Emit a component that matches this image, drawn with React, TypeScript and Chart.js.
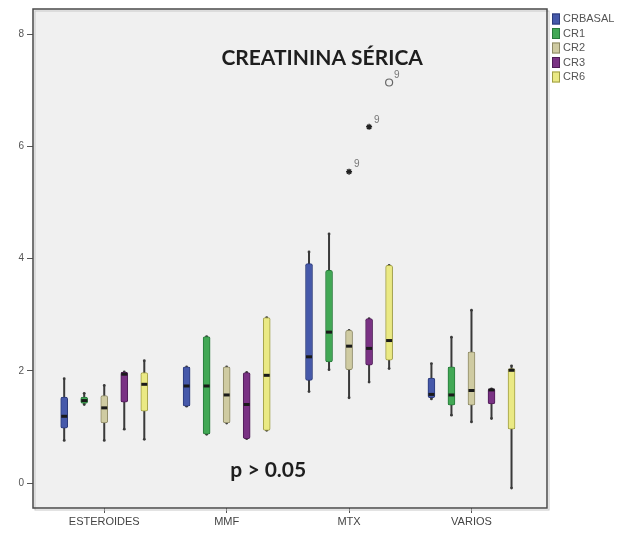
import React, { useEffect, useRef } from 'react';
import { Chart, registerables } from 'chart.js';
Chart.register(...registerables);

const categories = ['ESTEROIDES', 'MMF', 'MTX', 'VARIOS'];
const seriesNames = ['CRBASAL', 'CR1', 'CR2', 'CR3', 'CR6'];
const seriesColors = ['#4659AA', '#42A855', '#CFCBA2', '#7A3284', '#EAE984'];
const seriesBorders = ['#2c3b7a', '#287a3b', '#8d8966', '#4f1d57', '#9e9c44'];

// series x category
const minValues = [
  [0.76, 1.37, 1.63, 1.50],
  [1.40, 0.87, 2.02, 1.21],
  [0.76, 1.07, 1.52, 1.09],
  [0.96, 0.79, 1.80, 1.15],
  [0.78, 0.94, 2.04, -0.09],
];
const q1Values = [
  [0.98, 1.37, 1.83, 1.52],
  [1.42, 0.87, 2.16, 1.39],
  [1.07, 1.07, 2.02, 1.39],
  [1.44, 0.79, 2.10, 1.41],
  [1.28, 0.94, 2.19, 0.96],
];
const medianValues = [
  [1.19, 1.73, 2.25, 1.58],
  [1.47, 1.73, 2.69, 1.57],
  [1.34, 1.57, 2.44, 1.65],
  [1.94, 1.40, 2.40, 1.66],
  [1.76, 1.92, 2.54, 2.01],
];
const q3Values = [
  [1.53, 2.07, 3.91, 1.87],
  [1.53, 2.61, 3.79, 2.07],
  [1.56, 2.07, 2.72, 2.34],
  [1.98, 1.97, 2.93, 1.68],
  [1.97, 2.95, 3.88, 2.04],
];
const maxValues = [
  [1.86, 2.07, 4.12, 2.13],
  [1.60, 2.61, 4.44, 2.60],
  [1.74, 2.07, 2.72, 3.08],
  [1.98, 1.97, 2.93, 1.68],
  [2.18, 2.95, 3.88, 2.09],
];

const outlierCategory = [2, 2, 2];
const outlierSeries = [2, 3, 4];
const outlierValues = [5.55, 6.35, 7.14];
const outlierStyles = ['star', 'star', 'circle'];
const outlierLabels = ['9', '9', '9'];

const yTicks = [0, 2, 4, 6, 8];
const titleText = 'CREATININA SÉRICA';
const noteText = 'p > 0.05';

const seriesStep = 0.1636;
const offsetOf = (s: number) => (s - 2) * seriesStep;

export default function App() {
  const ref = useRef<HTMLCanvasElement | null>(null);

  useEffect(() => {
    if (!ref.current) return;
    const datasets: any[] = [];

    seriesNames.forEach((name, s) => {
      const whisker: any[] = [];
      categories.forEach((_, c) => {
        whisker.push({ x: c + offsetOf(s), y: minValues[s][c] });
        whisker.push({ x: c + offsetOf(s), y: maxValues[s][c] });
        whisker.push({ x: c + offsetOf(s), y: null });
      });
      datasets.push({
        type: 'line',
        label: name + '_w',
        data: whisker,
        borderColor: '#3a3a3a',
        borderWidth: 2,
        pointRadius: 1.4,
        pointBackgroundColor: '#3a3a3a',
        pointBorderWidth: 0,
        spanGaps: false,
        order: 5,
      });
      datasets.push({
        type: 'bar',
        label: name,
        data: categories.map((_, c) => ({ x: c + offsetOf(s), y: [q1Values[s][c], q3Values[s][c]] })),
        backgroundColor: seriesColors[s],
        borderColor: seriesBorders[s],
        borderWidth: 1,
        borderSkipped: false,
        borderRadius: 2,
        barThickness: 7,
        grouped: false,
        order: 3,
      });
      datasets.push({
        type: 'scatter',
        label: name + '_m',
        data: categories.map((_, c) => ({ x: c + offsetOf(s), y: medianValues[s][c] })),
        pointStyle: 'line',
        pointRadius: 3,
        borderColor: '#1a1a1a',
        borderWidth: 3,
        order: 1,
      });
    });

    datasets.push({
      type: 'scatter',
      label: 'outliers',
      data: outlierValues.map((v, i) => ({ x: outlierCategory[i] + offsetOf(outlierSeries[i]), y: v })),
      pointStyle: outlierStyles,
      pointRadius: outlierStyles.map((p) => (p === 'circle' ? 3.5 : 3)),
      backgroundColor: 'rgba(0,0,0,0)',
      borderColor: outlierStyles.map((p) => (p === 'circle' ? '#666' : '#222')),
      borderWidth: outlierStyles.map((p) => (p === 'circle' ? 1.2 : 1.4)),
      order: 0,
    });

    const bgPlugin = {
      id: 'bg',
      beforeDraw(chart: any) {
        const { ctx, chartArea: a } = chart;
        ctx.save();
        ctx.fillStyle = '#F0F0F0';
        ctx.fillRect(a.left, a.top, a.right - a.left, a.bottom - a.top);
        ctx.restore();
      },
      afterDraw(chart: any) {
        const { ctx, chartArea: a, scales } = chart;
        ctx.save();
        ctx.strokeStyle = '#c8c8c8';
        ctx.lineWidth = 1;
        ctx.strokeRect(a.left + 2, a.top + 2, a.right - a.left, a.bottom - a.top);
        ctx.strokeStyle = '#4a4a4a';
        ctx.lineWidth = 1.5;
        ctx.strokeRect(a.left, a.top, a.right - a.left, a.bottom - a.top);
        ctx.fillStyle = '#1e1e1e';
        ctx.font = 'bold 21px Lato';
        ctx.textAlign = 'center';
        ctx.textBaseline = 'middle';
        ctx.fillText(titleText, scales.x.getPixelForValue(1.78), scales.y.getPixelForValue(7.58));
        ctx.fillText(noteText, scales.x.getPixelForValue(1.34), scales.y.getPixelForValue(0.22));
        ctx.font = '10px "Liberation Sans"';
        ctx.fillStyle = '#777';
        ctx.textAlign = 'left';
        outlierValues.forEach((v, i) => {
          const px = scales.x.getPixelForValue(outlierCategory[i] + offsetOf(outlierSeries[i]));
          const py = scales.y.getPixelForValue(v);
          ctx.fillText(outlierLabels[i], px + 5, py - 7);
        });
        seriesNames.forEach((n, s) => {
          const y = 19 + s * 14.5;
          const x = a.right + 5;
          ctx.fillStyle = seriesColors[s];
          ctx.fillRect(x, y - 5.5, 8, 11);
          ctx.strokeStyle = seriesBorders[s];
          ctx.lineWidth = 1;
          ctx.strokeRect(x + 0.5, y - 5, 7, 10);
          ctx.fillStyle = '#555';
          ctx.font = '11px "Liberation Sans"';
          ctx.textBaseline = 'middle';
          ctx.fillText(n, x + 11, y);
        });
        ctx.restore();
      },
    };

    const chart = new Chart(ref.current, {
      type: 'bar',
      data: { datasets },
      plugins: [bgPlugin],
      options: {
        animation: false,
        responsive: true,
        maintainAspectRatio: false,
        layout: { padding: { left: 0, right: 77, top: 8, bottom: 0 } },
        plugins: { legend: { display: false }, tooltip: { enabled: false } },
        scales: {
          x: {
            type: 'linear',
            offset: false,
            min: -0.582,
            max: 3.617,
            afterBuildTicks: (axis: any) => {
              axis.ticks = categories.map((_, i) => ({ value: i }));
            },
            afterFit: (axis: any) => {
              axis.height = 32;
            },
            ticks: {
              callback: (v: any) => categories[v as number] ?? '',
              color: '#444',
              font: { size: 11, family: 'Liberation Sans' },
              padding: 2,
              maxRotation: 0,
              autoSkip: false,
            },
            grid: { offset: false, drawOnChartArea: false, drawTicks: true, tickLength: 5, color: '#555' },
            border: { display: false },
          },
          y: {
            type: 'linear',
            min: -0.445,
            max: 8.45,
            afterBuildTicks: (axis: any) => {
              axis.ticks = yTicks.map((v) => ({ value: v }));
            },
            afterFit: (axis: any) => {
              axis.width = 33;
            },
            ticks: {
              color: '#555',
              font: { size: 10, family: 'Liberation Sans' },
              padding: 3,
            },
            grid: { drawOnChartArea: false, drawTicks: true, tickLength: 6, color: '#555' },
            border: { display: false },
          },
        },
      } as any,
    });
    return () => chart.destroy();
  }, []);

  return (
    <div style={{ position: 'fixed', left: 0, top: 0, width: 624, height: 540, background: '#fff' }}>
      <canvas ref={ref} />
    </div>
  );
}
